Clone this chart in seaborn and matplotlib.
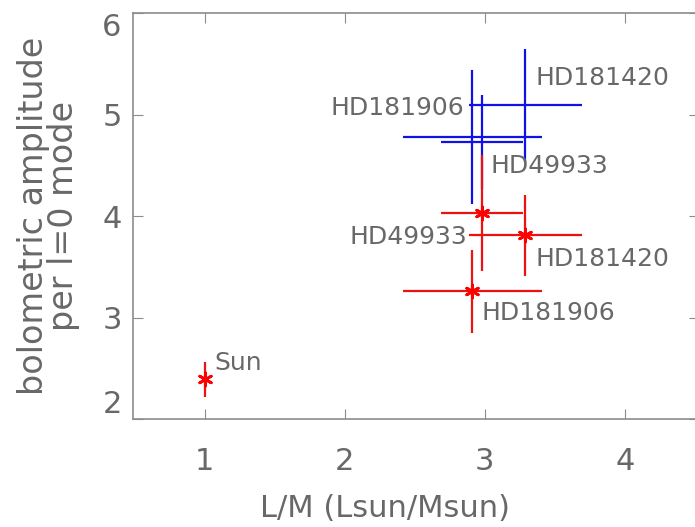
import matplotlib
matplotlib.use("Agg")
import matplotlib.pyplot as plt
import pandas as pd
import seaborn as sns

# Data
red_names = ["Sun", "HD49933", "HD181420", "HD181906"]
red_lm = [1.00, 2.98, 3.29, 2.91]
red_amp = [2.39, 4.03, 3.81, 3.26]
red_lm_err = [0.0, 0.29, 0.40, 0.495]
red_amp_err = [0.17, 0.57, 0.40, 0.41]

blue_names = ["HD181420", "HD181906", "HD49933"]
blue_lm = [3.29, 2.91, 2.98]
blue_amp = [5.09, 4.78, 4.73]
blue_lm_err = [0.40, 0.495, 0.29]
blue_amp_err = [0.56, 0.66, 0.46]

x_ticks = [1, 2, 3, 4]
y_ticks = [2, 3, 4, 5, 6]

# label offsets in points (x, y, ha)
red_offsets = [(7, 12, "left"), (-11, -17, "right"), (7, -17, "left"), (7, -16, "left")]
blue_offsets = [(7, 20, "left"), (-6, 21, "right"), (6, -17, "left")]

red = pd.DataFrame({"name": red_names, "lm": red_lm, "amp": red_amp,
                    "xerr": red_lm_err, "yerr": red_amp_err})
blue = pd.DataFrame({"name": blue_names, "lm": blue_lm, "amp": blue_amp,
                     "xerr": blue_lm_err, "yerr": blue_amp_err})

sns.set_theme(style="ticks")
plt.rcParams["font.family"] = ["DejaVu Sans"]

fig = plt.figure(figsize=(6.95, 5.27), dpi=100)
ax = fig.add_axes([0.191, 0.205, 0.815, 0.770])

text_color = "#686868"
axis_color = "#8c8c8c"

# blue crosses first, red drawn on top
ax.errorbar(blue["lm"], blue["amp"], xerr=blue["xerr"], yerr=blue["yerr"],
            fmt="none", ecolor="#1010e8", elinewidth=1.6, capsize=0)
ax.errorbar(red["lm"], red["amp"], xerr=red["xerr"], yerr=red["yerr"],
            fmt="none", ecolor="#ee1111", elinewidth=1.6, capsize=0)
sns.scatterplot(data=red, x="lm", y="amp", ax=ax, marker=(6, 2, 0), s=90,
                color="#ff0000", linewidth=2, edgecolor="#ff0000", zorder=5)

for (_, row), (dx, dy, ha) in zip(red.iterrows(), red_offsets):
    ax.annotate(row["name"], (row["lm"], row["amp"]), xytext=(dx, dy),
                textcoords="offset points", ha=ha, va="center",
                fontsize=18, color=text_color)
for (_, row), (dx, dy, ha) in zip(blue.iterrows(), blue_offsets):
    ax.annotate(row["name"], (row["lm"], row["amp"]), xytext=(dx, dy),
                textcoords="offset points", ha=ha, va="center",
                fontsize=18, color=text_color)

ax.set_xlim(0.486, 4.53)
ax.set_ylim(2, 6)
ax.set_xticks(x_ticks)
ax.set_yticks(y_ticks)
ax.tick_params(direction="in", length=7, width=0.8, color=axis_color,
               top=True, right=True, labelsize=22, labelcolor=text_color)
ax.tick_params(axis="x", pad=20)
ax.tick_params(axis="y", pad=8)
# end labels kept inside the frame, like the original
ylabels = ax.get_yticklabels()
ylabels[0].set_va("bottom")
ylabels[-1].set_va("top")
for s in ax.spines.values():
    s.set_color(axis_color)
    s.set_linewidth(1.2)

ax.set_xlabel("L/M (Lsun/Msun)", fontsize=22, color=text_color)
ax.xaxis.set_label_coords(0.445, -0.185)
ax.set_ylabel("bolometric amplitude\nper l=0 mode", fontsize=24,
              color=text_color, linespacing=0.85)
ax.yaxis.set_label_coords(-0.094, 0.5)

fig.savefig("out.png", dpi=100)
